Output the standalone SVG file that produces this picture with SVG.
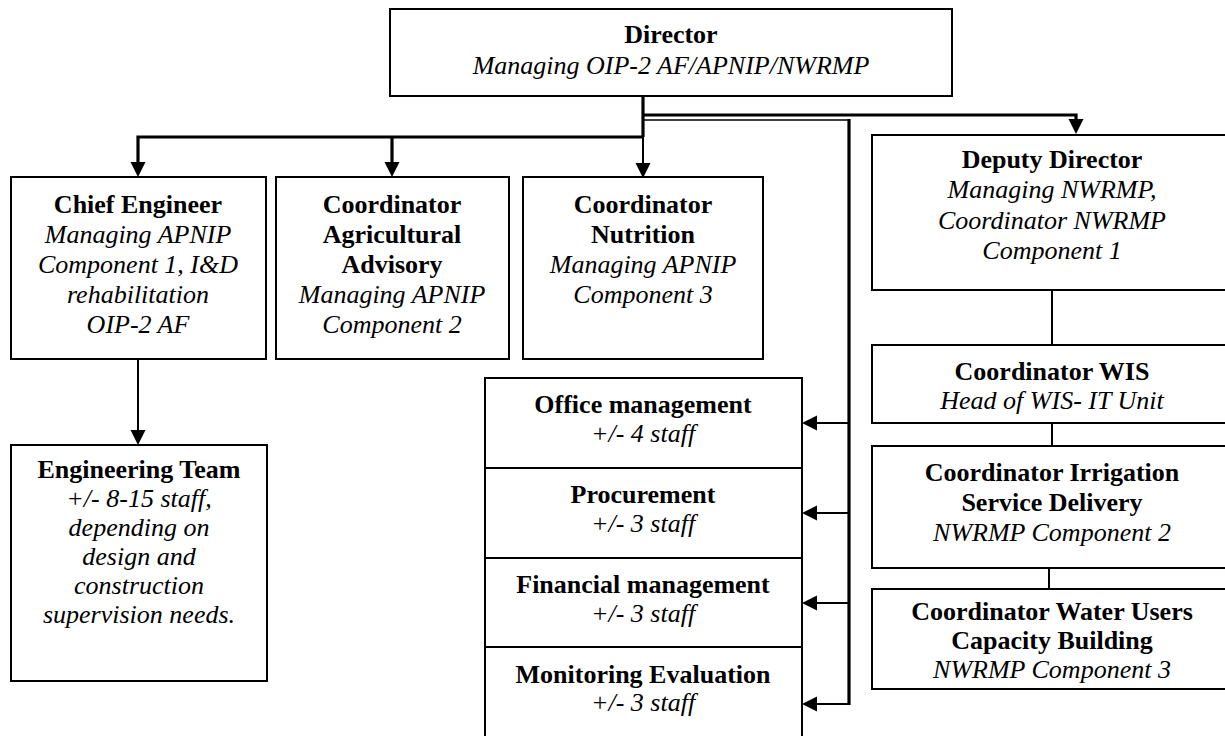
<svg xmlns="http://www.w3.org/2000/svg" width="1225" height="736" viewBox="0 0 1225 736">
<style>
.box{fill:#fff;stroke:#000;stroke-width:2}
text{font-family:"Liberation Serif","Times New Roman",serif;font-size:26px;text-anchor:middle;fill:#000}
.b{font-weight:bold}
.i{font-style:italic}
.c{fill:none;stroke:#000;stroke-linejoin:miter}
.t3{stroke-width:3.2}
.t2{stroke-width:2}
.t15{stroke-width:1.6}
</style>
<defs>
<marker id="ah" viewBox="0 0 15 16" refX="0" refY="8" markerWidth="15" markerHeight="16" markerUnits="userSpaceOnUse" orient="auto">
<path d="M0,0.5 L15,8 L0,15.5 Z" fill="#000"/>
</marker>
</defs>
<rect width="1225" height="736" fill="#fff"/>

<g id="connectors">
<path class="c t3" d="M643,96 V137"/>
<path class="c t3" d="M643,137 H138 V162" marker-end="url(#ah)"/>
<path class="c t3" d="M392,137 V162" marker-end="url(#ah)"/>
<path class="c t2" d="M643,137 V163" marker-end="url(#ah)"/>
<path class="c t3" d="M643,115 H1076 V119" marker-end="url(#ah)"/>
<path class="c t15" d="M643,120 H849"/>
<path class="c t3" d="M849,119 V705"/>
<path class="c t2" d="M849,423 H817" marker-end="url(#ah)"/>
<path class="c t2" d="M849,513 H817" marker-end="url(#ah)"/>
<path class="c t2" d="M849,603 H817" marker-end="url(#ah)"/>
<path class="c t2" d="M849,704 H817" marker-end="url(#ah)"/>
<path class="c t2" d="M138,359 V430" marker-end="url(#ah)"/>
<path class="c t2" d="M1052,290 V345"/>
<path class="c t2" d="M1052,423 V446"/>
<path class="c t2" d="M1049,568 V589"/>
</g>

<g id="director">
<rect class="box" x="390" y="9" width="562" height="87"/>
<text x="671" y="43" class="b">Director</text>
<text x="671" y="74" class="i">Managing OIP-2 AF/APNIP/NWRMP</text>
</g>

<g id="chief-engineer">
<rect class="box" x="11" y="177" width="255" height="182"/>
<text x="138" y="213" class="b">Chief Engineer</text>
<text x="138" y="243" class="i">Managing APNIP</text>
<text x="138" y="273" class="i">Component 1, I&amp;D</text>
<text x="138" y="303" class="i">rehabilitation</text>
<text x="138" y="333" class="i">OIP-2 AF</text>
</g>

<g id="coord-agri">
<rect class="box" x="276" y="177" width="233" height="182"/>
<text x="392" y="213" class="b">Coordinator</text>
<text x="392" y="243" class="b">Agricultural</text>
<text x="392" y="273" class="b">Advisory</text>
<text x="392" y="303" class="i">Managing APNIP</text>
<text x="392" y="333" class="i">Component 2</text>
</g>

<g id="coord-nutrition">
<rect class="box" x="523" y="177" width="240" height="182"/>
<text x="643" y="213" class="b">Coordinator</text>
<text x="643" y="243" class="b">Nutrition</text>
<text x="643" y="273" class="i">Managing APNIP</text>
<text x="643" y="303" class="i">Component 3</text>
</g>

<g id="engineering-team">
<rect class="box" x="11" y="445" width="256" height="236"/>
<text x="139" y="478" class="b">Engineering Team</text>
<text x="139" y="507" class="i">+/- 8-15 staff,</text>
<text x="139" y="536" class="i">depending on</text>
<text x="139" y="565" class="i">design and</text>
<text x="139" y="594" class="i">construction</text>
<text x="139" y="623" class="i">supervision needs.</text>
</g>

<g id="office-management">
<rect class="box" x="485" y="378" width="317" height="90"/>
<text x="643" y="413" class="b">Office management</text>
<text x="643" y="442" class="i">+/- 4 staff</text>
</g>
<g id="procurement">
<rect class="box" x="485" y="468" width="317" height="90"/>
<text x="643" y="503" class="b">Procurement</text>
<text x="643" y="532" class="i">+/- 3 staff</text>
</g>
<g id="financial-management">
<rect class="box" x="485" y="558" width="317" height="89"/>
<text x="643" y="593" class="b">Financial management</text>
<text x="643" y="622" class="i">+/- 3 staff</text>
</g>
<g id="monitoring-evaluation">
<rect class="box" x="485" y="647" width="317" height="100"/>
<text x="643" y="683" class="b">Monitoring Evaluation</text>
<text x="643" y="711" class="i">+/- 3 staff</text>
</g>

<g id="deputy-director">
<rect class="box" x="872" y="135" width="360" height="155"/>
<text x="1052" y="168" class="b">Deputy Director</text>
<text x="1052" y="198" class="i">Managing NWRMP,</text>
<text x="1052" y="229" class="i">Coordinator NWRMP</text>
<text x="1052" y="259" class="i">Component 1</text>
</g>

<g id="coord-wis">
<rect class="box" x="872" y="345" width="360" height="78"/>
<text x="1052" y="380" class="b">Coordinator WIS</text>
<text x="1052" y="409" class="i">Head of WIS- IT Unit</text>
</g>

<g id="coord-irrigation">
<rect class="box" x="872" y="446" width="360" height="122"/>
<text x="1052" y="481" class="b">Coordinator Irrigation</text>
<text x="1052" y="511" class="b">Service Delivery</text>
<text x="1052" y="541" class="i">NWRMP Component 2</text>
</g>

<g id="coord-water-users">
<rect class="box" x="872" y="589" width="360" height="100"/>
<text x="1052" y="620" class="b">Coordinator Water Users</text>
<text x="1052" y="649" class="b">Capacity Building</text>
<text x="1052" y="678" class="i">NWRMP Component 3</text>
</g>
</svg>
